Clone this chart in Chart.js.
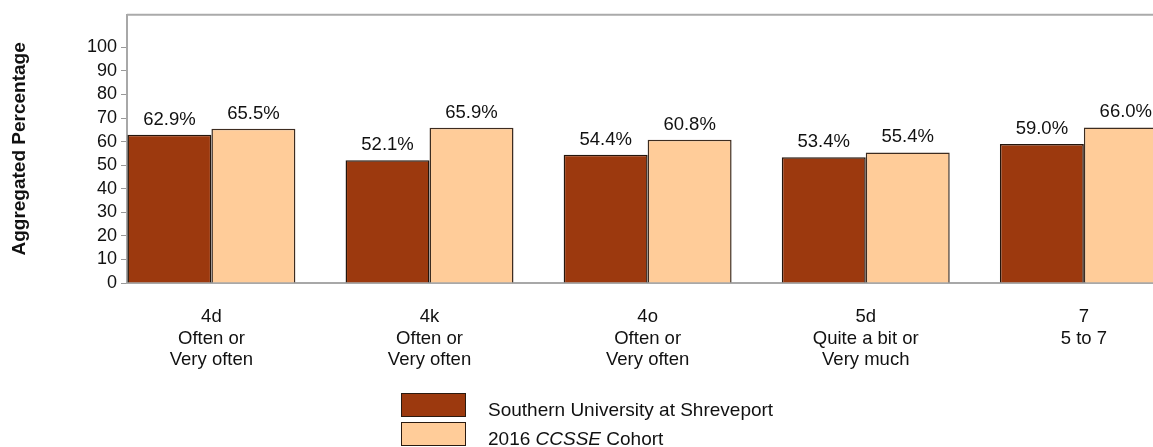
<!DOCTYPE html>
<html lang="en">
<head>
    <meta charset="UTF-8">
    <title>Aggregated Percentage</title>
    <script src="https://cdn.jsdelivr.net/npm/chart.js@4"></script>
    <style>
        body {
            margin: 0;
            padding: 0;
            background: #fff;
            font-family: "Liberation Sans", Arial, sans-serif;
        }
        .wrap {
            position: relative;
            width: 1153px;
            height: 447px;
            overflow: hidden;
        }
        #legend {
            position: absolute;
            left: 401px;
            top: 393px;
        }
        .item {
            position: relative;
            height: 28.5px;
            font-size: 19px;
            color: #111;
        }
        .swatch {
            position: absolute;
            left: 0;
            top: 0;
            width: 63px;
            height: 22px;
            border: 1px solid #2a1a10;
        }
        .name {
            position: absolute;
            left: 87px;
            top: 5px;
            line-height: 24px;
            white-space: nowrap;
        }
    </style>
</head>
<body>
<div class="wrap">
    <canvas id="chart" width="1153" height="447"></canvas>
    <div id="legend"></div>
</div>

<script>
// data
const categories = ["4d", "4k", "4o", "5d", "7"];
const xLabels = [
    ["4d", "Often or", "Very often"],
    ["4k", "Often or", "Very often"],
    ["4o", "Often or", "Very often"],
    ["5d", "Quite a bit or", "Very much"],
    ["7", "5 to 7"]
];
const college = [62.9, 52.1, 54.4, 53.4, 59.0];
const cohort = [65.5, 65.9, 60.8, 55.4, 66.0];
const yTicks = [0, 10, 20, 30, 40, 50, 60, 70, 80, 90, 100];

const seriesNames = ["Southern University at Shreveport", "2016 <i>CCSSE</i> Cohort"];
const seriesColors = ["#9c390e", "#ffcc99"];

const FONT = '"Liberation Sans", Arial, sans-serif';

// labels on top of each bar
const barLabels = {
    id: "barLabels",
    afterDatasetsDraw(chart) {
        const ctx = chart.ctx;
        ctx.save();
        ctx.font = "18.5px " + FONT;
        ctx.fillStyle = "#111";
        ctx.textAlign = "center";
        ctx.textBaseline = "alphabetic";
        chart.data.datasets.forEach((ds, di) => {
            chart.getDatasetMeta(di).data.forEach((bar, i) => {
                ctx.fillText(ds.data[i].y.toFixed(1) + "%", bar.x, bar.y - 10);
            });
        });
        ctx.restore();
    }
};

// top edge of the plot frame
const topLine = {
    id: "topLine",
    afterDraw(chart) {
        const a = chart.chartArea;
        const ctx = chart.ctx;
        ctx.save();
        ctx.strokeStyle = "#aaa";
        ctx.lineWidth = 2;
        ctx.beginPath();
        ctx.moveTo(a.left, a.top);
        ctx.lineTo(a.right, a.top);
        ctx.stroke();
        ctx.restore();
    }
};

const ctx = document.getElementById("chart").getContext("2d");
new Chart(ctx, {
    type: "bar",
    data: {
        datasets: [
            {
                label: "Southern University at Shreveport",
                data: college.map((v, i) => ({ x: i, y: v })),
                backgroundColor: seriesColors[0],
                borderColor: "#24150c",
                borderWidth: 1.5
            },
            {
                label: "2016 CCSSE Cohort",
                data: cohort.map((v, i) => ({ x: i, y: v })),
                backgroundColor: seriesColors[1],
                borderColor: "#3d2c20",
                borderWidth: 1.5
            }
        ]
    },
    options: {
        responsive: false,
        animation: false,
        categoryPercentage: 0.77,
        barPercentage: 1.0,
        layout: { padding: { top: 13, left: 0, right: 0, bottom: 64 } },
        plugins: {
            legend: { display: false },
            tooltip: { enabled: false }
        },
        scales: {
            x: {
                type: "linear",
                offset: false,
                min: -0.387,
                max: 4.317,
                afterBuildTicks: (scale) => {
                    scale.ticks = categories.map((c, i) => ({ value: i }));
                },
                afterFit: (scale) => { scale.height = 100; },
                grid: { display: false, drawTicks: false },
                border: { color: "#a8a8a8", width: 2 },
                ticks: {
                    autoSkip: false,
                    maxRotation: 0,
                    padding: 23,
                    color: "#111",
                    font: { family: FONT, size: 18.5, lineHeight: 1.17 },
                    callback: (v, i) => xLabels[i]
                }
            },
            y: {
                min: 0,
                max: 113.8,
                afterBuildTicks: (scale) => {
                    scale.ticks = yTicks.map(v => ({ value: v }));
                },
                afterFit: (scale) => { scale.width = 127; },
                grid: { drawOnChartArea: false, drawTicks: true, tickLength: 6, color: "#999" },
                border: { color: "#a8a8a8", width: 2 },
                ticks: {
                    padding: 4,
                    color: "#111",
                    font: { family: FONT, size: 18 }
                },
                title: {
                    display: true,
                    text: "Aggregated Percentage",
                    color: "#111",
                    padding: { top: 8, bottom: 4 },
                    font: { family: FONT, size: 19, weight: "bold" }
                }
            }
        }
    },
    plugins: [barLabels, topLine]
});

// legend
const legend = document.getElementById("legend");
seriesNames.forEach((name, i) => {
    const row = document.createElement("div");
    row.className = "item";
    row.innerHTML = `<span class="swatch" style="background:${seriesColors[i]}"></span><span class="name">${name}</span>`;
    legend.appendChild(row);
});
</script>
</body>
</html>
